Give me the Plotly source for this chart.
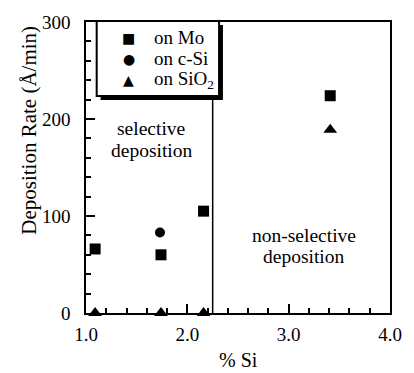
import plotly.graph_objects as go

# Data
mo_x = [1.09, 1.74, 2.16, 3.41]
mo_y = [66, 60, 105, 224]
csi_x = [1.73]
csi_y = [83]
sio2_x = [1.09, 1.74, 2.16, 3.41]
sio2_y = [0, 0, 0, 189]
boundary_x = 2.25

legend_names = ["on Mo", "on c-Si", "on SiO<sub>2</sub>"]
legend_symbols = ["■", "●", "▲"]

FONT = "Liberation Serif"
L, R, T, B = 86, 15, 18, 60
W, H = 414, 373
PW, PH = W - L - R, H - T - B


def px(x):
    return (x - L) / PW


def py(y):
    return (H - B - y) / PH


fig = go.Figure()
fig.add_trace(go.Scatter(x=mo_x, y=mo_y, mode="markers", name=legend_names[0],
                         marker=dict(symbol="square", size=11, color="black"),
                         cliponaxis=False))
fig.add_trace(go.Scatter(x=csi_x, y=csi_y, mode="markers", name=legend_names[1],
                         marker=dict(symbol="circle", size=10, color="black"),
                         cliponaxis=False))
fig.add_trace(go.Scatter(x=sio2_x, y=sio2_y, mode="markers", name=legend_names[2],
                         marker=dict(symbol="triangle-up", size=12, color="black"),
                         cliponaxis=False))

# boundary line
fig.add_shape(type="line", x0=boundary_x, x1=boundary_x, y0=0, y1=300,
              xref="x", yref="y", line=dict(color="black", width=1.5), layer="below")
# legend box with drop shadow
fig.add_shape(type="rect", xref="paper", yref="paper",
              x0=px(101), x1=px(227), y0=py(97), y1=py(21),
              fillcolor="black", line=dict(width=0), layer="above")
fig.add_shape(type="rect", xref="paper", yref="paper",
              x0=px(97), x1=px(223), y0=py(93), y1=py(17),
              fillcolor="white", line=dict(color="black", width=2), layer="above")

row_y = [34, 55.5, 77]
for sym, name, ry in zip(legend_symbols, legend_names, row_y):
    fig.add_annotation(x=px(130), y=py(ry), xref="paper", yref="paper", text=sym,
                       showarrow=False, xanchor="center", yanchor="middle",
                       font=dict(family="DejaVu Sans", size=14, color="black"))
    fig.add_annotation(x=px(154), y=py(ry), xref="paper", yref="paper", text=name,
                       showarrow=False, xanchor="left", yanchor="middle",
                       font=dict(family=FONT, size=19, color="black"))

# region labels (one annotation per line to keep tight line spacing)
for txt, cx, cy in [("selective", 153, 126), ("deposition", 153, 148),
                    ("non-selective", 310, 234), ("deposition", 310, 256)]:
    fig.add_annotation(x=px(cx), y=py(cy), xref="paper", yref="paper", text=txt,
                       showarrow=False, xanchor="center", yanchor="middle",
                       font=dict(family=FONT, size=19.5, color="black"))

# axis titles
fig.add_annotation(x=px(27), y=py(127.5), xref="paper", yref="paper",
                   text="Deposition Rate (Å/min)", textangle=-90, showarrow=False,
                   xanchor="center", yanchor="middle",
                   font=dict(family=FONT, size=21, color="black"))
fig.add_annotation(x=px(243), y=py(361), xref="paper", yref="paper",
                   text="% Si", showarrow=False, xanchor="center", yanchor="middle",
                   font=dict(family=FONT, size=20, color="black"))

fig.update_layout(
    width=W, height=H,
    margin=dict(l=L, r=R, t=T, b=B),
    paper_bgcolor="white", plot_bgcolor="white",
    font=dict(family=FONT, size=19, color="black"),
    showlegend=False,
    xaxis=dict(range=[1.0, 4.0], dtick=1.0, tick0=1.0, tickformat=".1f",
               showline=True, linecolor="black", linewidth=1.5, mirror=True,
               ticks="inside", ticklen=9, tickwidth=1.5, tickcolor="black",
               minor=dict(dtick=0.2, ticks="inside", ticklen=5, tickwidth=1.5, tickcolor="black"),
               showgrid=False, zeroline=False, ticklabelstandoff=3,
               tickfont=dict(family=FONT, size=19, color="black")),
    yaxis=dict(range=[0, 300], dtick=100, tick0=0,
               showline=True, linecolor="black", linewidth=1.5, mirror=True,
               ticks="inside", ticklen=9, tickwidth=1.5, tickcolor="black",
               minor=dict(dtick=20, ticks="inside", ticklen=5, tickwidth=1.5, tickcolor="black"),
               showgrid=False, zeroline=False, ticklabelstandoff=10,
               tickfont=dict(family=FONT, size=19, color="black")),
)

fig.write_html("out.html", config={"displayModeBar": False},
               post_script="document.body.style.margin='0px';")
